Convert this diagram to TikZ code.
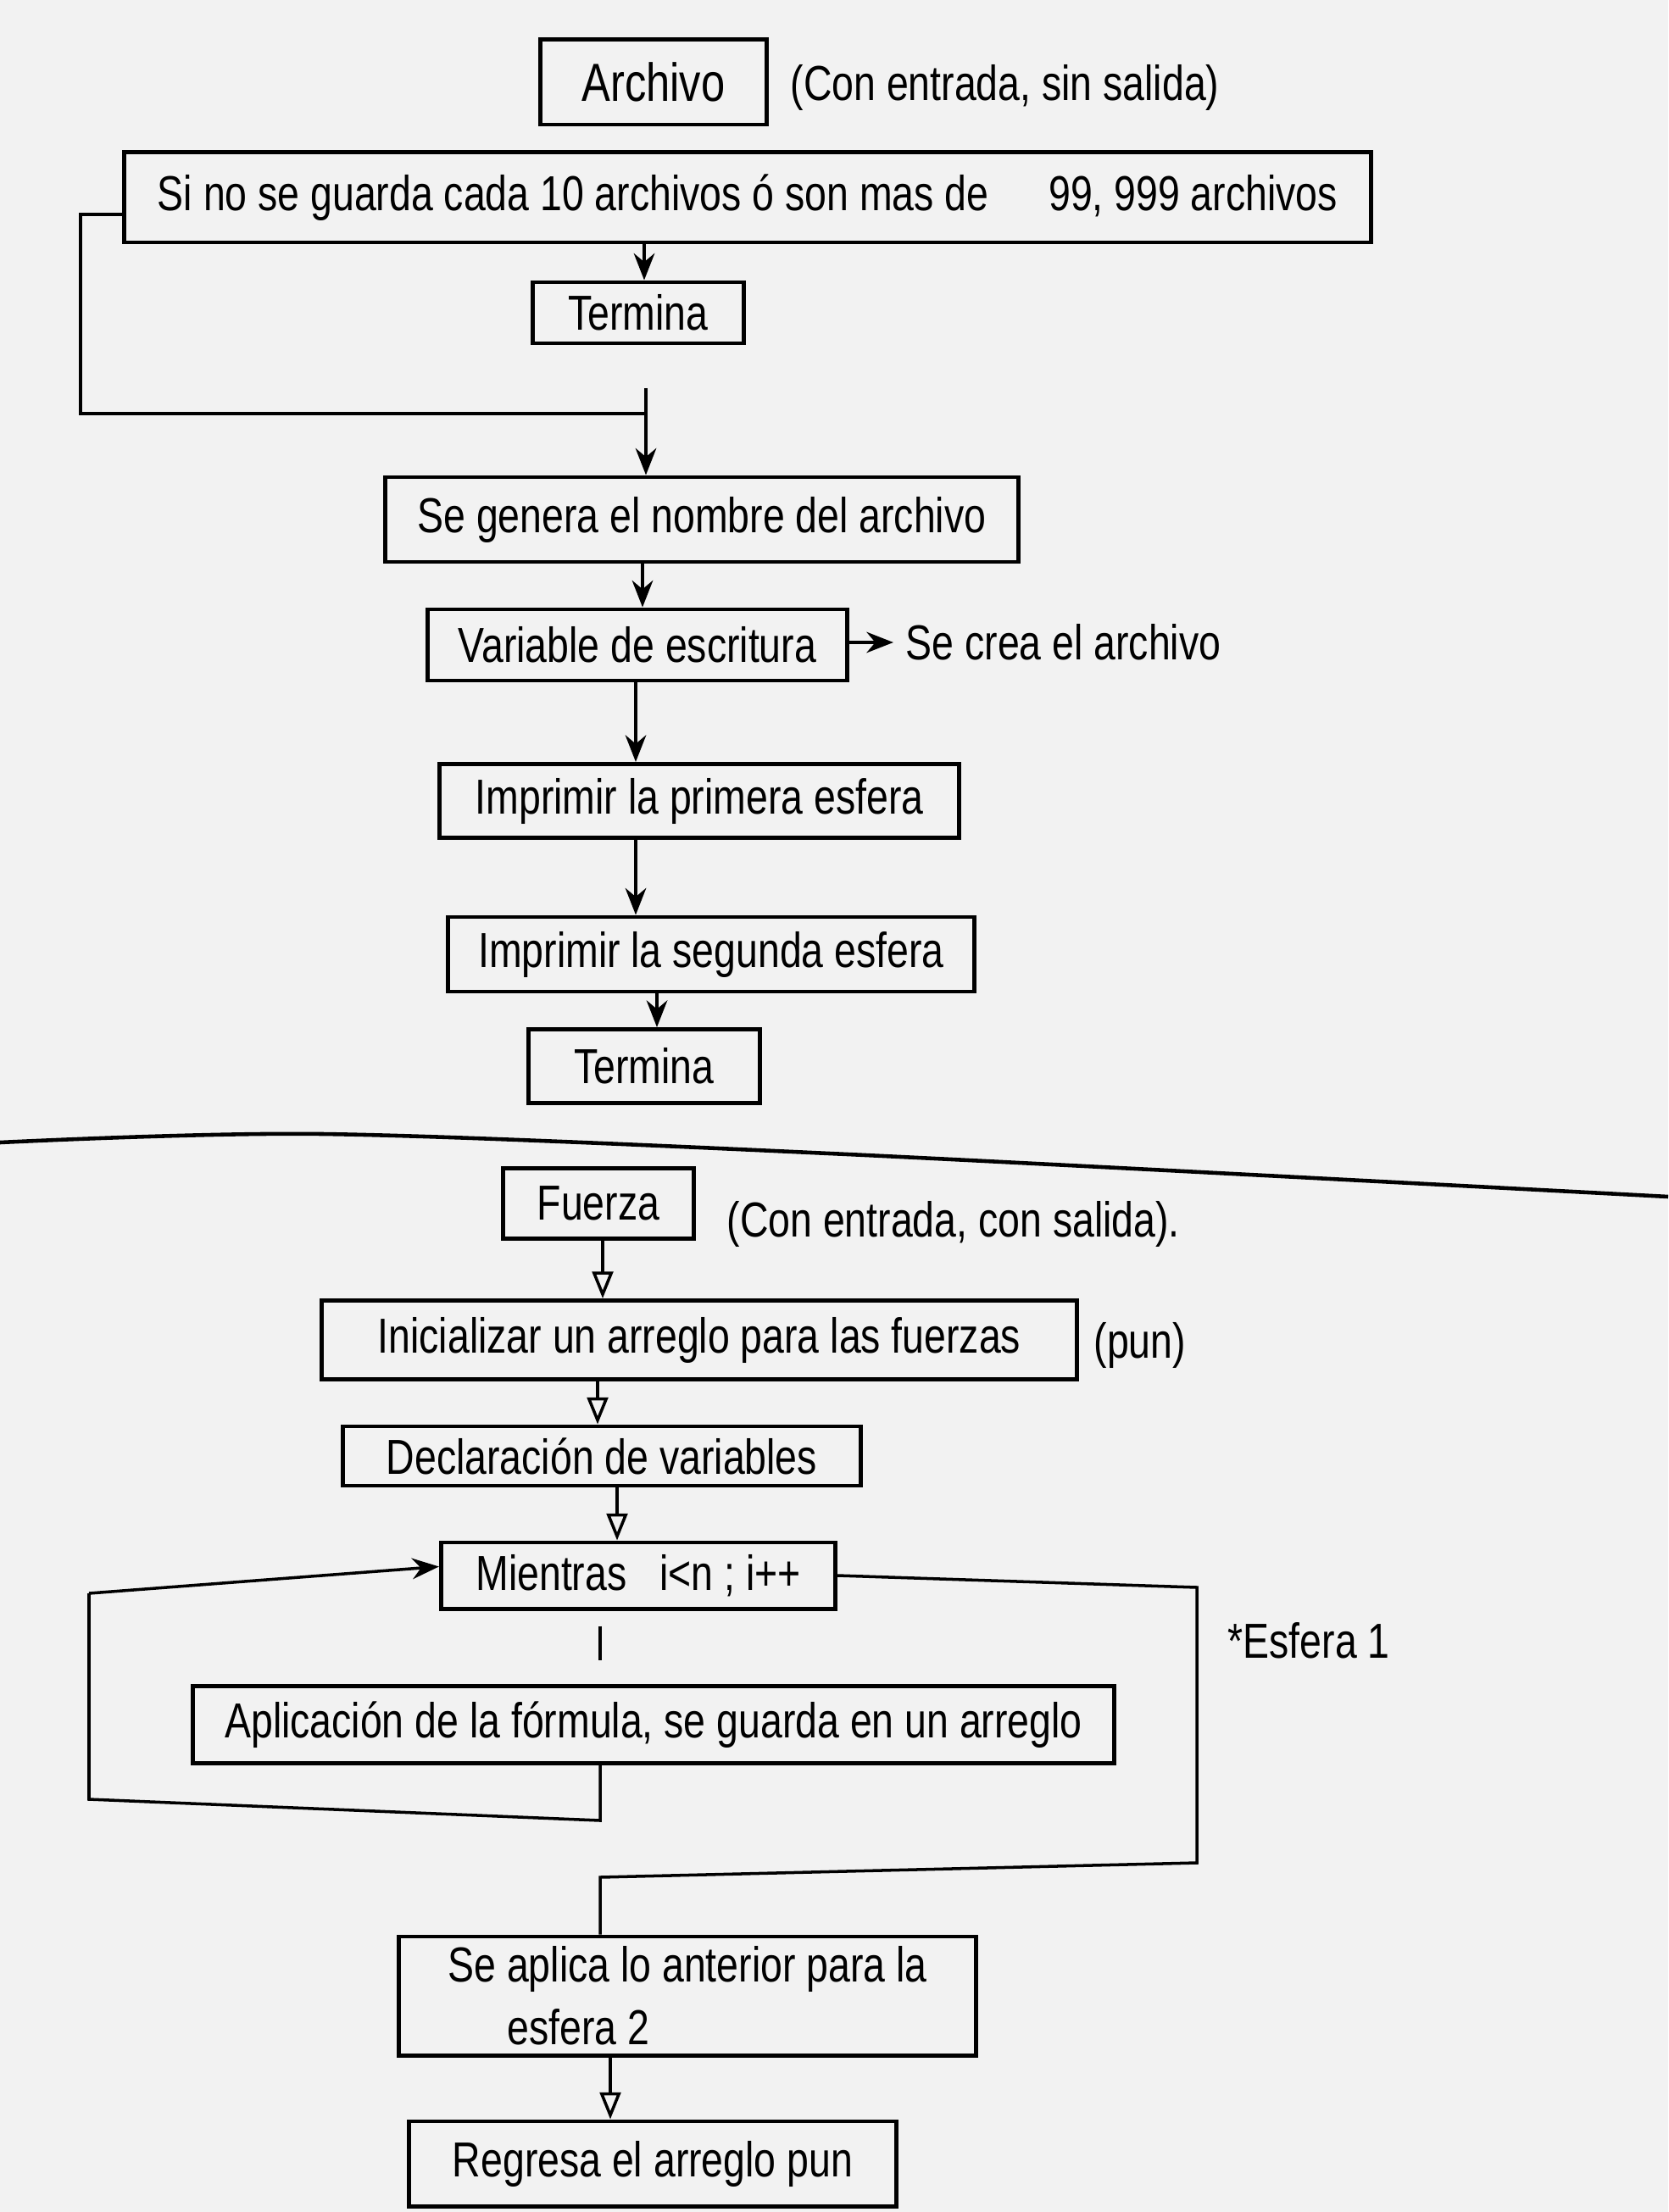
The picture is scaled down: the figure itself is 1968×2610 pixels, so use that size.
\documentclass[tikz,border=0pt]{standalone}
\usepackage{fontspec}
\setmainfont{Liberation Sans}[FakeStretch=0.8]
\usetikzlibrary{arrows.meta,calc}
\begin{document}
\begin{tikzpicture}[x=0.01cm,y=-0.01cm,
  box/.style={draw, line width=1.4pt, rectangle, inner sep=0pt, font=\fontsize{16.5}{24}\selectfont},
  lbl/.style={anchor=west, inner sep=0pt, font=\fontsize{16.5}{20}\selectfont},
  con/.style={line width=1pt},
  arr/.style={con, -{Stealth[length=9pt,width=7pt]}},
  oarr/.style={con, -{Triangle[open,length=9pt,width=7pt]}}]
\fill[black!5] (0,0) rectangle (1968,2610);
\useasboundingbox (0,0) rectangle (1968,2610);

% ---------- Archivo ----------
\node[box, minimum width=2.66cm, minimum height=1.0cm, font=\fontsize{18}{22}\selectfont] (archivo) at (771,97) {Archivo};
\node[lbl] (archlbl) at (932,103) {(Con entrada, sin salida)};

\node[box, minimum width=14.71cm, minimum height=1.06cm] (cond) at (882,233)
  {Si no se guarda cada 10 archivos ó son mas de \quad 99, 999 archivos};
\node[box, minimum width=2.48cm, minimum height=0.72cm] (term1) at (753,369) {Termina};
\node[box, minimum width=7.47cm, minimum height=1.0cm] (genera) at (828,613) {Se genera el nombre del archivo};
\node[box, minimum width=4.94cm, minimum height=0.84cm] (var) at (752,761) {Variable de escritura};
\node[lbl] (crea) at (1068,758) {Se crea el archivo};
\node[box, minimum width=6.13cm, minimum height=0.87cm] (imp1) at (825,945) {Imprimir la primera esfera};
\node[box, minimum width=6.2cm, minimum height=0.88cm] (imp2) at (839,1126) {Imprimir la segunda esfera};
\node[box, minimum width=2.72cm, minimum height=0.87cm] (term2) at (760,1258) {Termina};

\coordinate (l1a) at (95,253);
\coordinate (l1b) at (95,488);
\coordinate (j1) at (762,488);
\coordinate (s1) at (762,458);

\draw[arr] (cond.south -| 760,0) -- (term1.north -| 760,0);
\draw[con] (cond.west |- 0,253) -- (l1a) -- (l1b) -- (j1);
\draw[arr] (s1) -- (genera.north -| s1);
\draw[arr] (genera.south -| 758,0) -- (var.north -| 758,0);
\draw[arr] (var.east |- 0,758) -- ([xshift=-4pt]crea.west);
\draw[arr] (var.south -| 750,0) -- (imp1.north -| 750,0);
\draw[arr] (imp1.south -| 750,0) -- (imp2.north -| 750,0);
\draw[arr] (imp2.south -| 775,0) -- (term2.north -| 775,0);

% ---------- divider ----------
\draw[line width=1.3pt] plot[smooth] coordinates {(0,1348) (380,1338) (1000,1362) (1968,1412)};

% ---------- Fuerza ----------
\node[box, minimum width=2.25cm, minimum height=0.83cm] (fuerza) at (706,1420) {Fuerza};
\node[lbl] (fuerlbl) at (857,1444) {(Con entrada, con salida).};
\node[box, minimum width=8.9cm, minimum height=0.93cm] (init) at (825,1581) {Inicializar un arreglo para las fuerzas};
\node[lbl] (pun) at (1290,1587) {(pun)};
\node[box, minimum width=6.11cm, minimum height=0.7cm] (decl) at (710,1718) {Declaración de variables};
\node[box, minimum width=4.65cm, minimum height=0.78cm] (mientras) at (753,1859) {Mientras \ \ i<n ; i++};
\node[box, minimum width=10.87cm, minimum height=0.91cm] (aplic) at (771,2035) {Aplicación de la fórmula, se guarda en un arreglo};
\node[lbl] (esf1) at (1448,1936) {*Esfera 1};
\node[box, minimum width=6.81cm, minimum height=1.4cm, align=left, font=\fontsize{16.5}{21}\selectfont] (seaplica) at (811,2355)
  {Se aplica lo anterior para la\\\hspace{0.7cm}esfera 2};
\node[box, minimum width=5.74cm, minimum height=1.0cm] (regresa) at (770,2553) {Regresa el arreglo pun};

\coordinate (l2a) at (708,2148);
\coordinate (l2b) at (105,2123);
\coordinate (l2c) at (105,1880);
\coordinate (r2a) at (1412,1873);
\coordinate (r2b) at (1412,2198);
\coordinate (r2c) at (708,2215);

\draw[oarr] (fuerza.south -| 711,0) -- (init.north -| 711,0);
\draw[oarr] (init.south -| 705,0) -- (decl.north -| 705,0);
\draw[oarr] (decl.south -| 728,0) -- (mientras.north -| 728,0);
\draw[con, shorten <=0.18cm, shorten >=0.28cm] (mientras.south -| 708,0) -- (aplic.north -| 708,0);
\draw[con] (aplic.south -| l2a) -- (l2a) -- (l2b) -- (l2c);
\draw[arr] (l2c) -- ([yshift=3pt]mientras.west);
\draw[con] (mientras.east) -- (r2a) -- (r2b) -- (r2c) -- (seaplica.north -| r2c);
\draw[oarr] (seaplica.south -| 720,0) -- (regresa.north -| 720,0);
\end{tikzpicture}
\end{document}
